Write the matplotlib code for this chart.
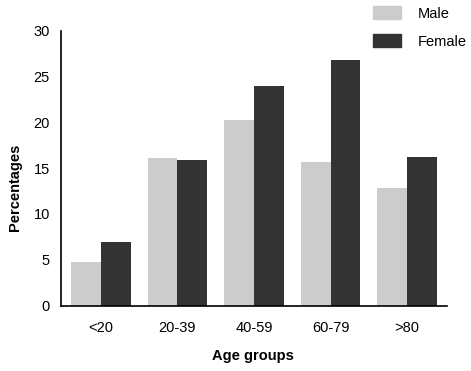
import matplotlib
matplotlib.use('Agg')
import matplotlib.pyplot as plt
import numpy as np
from matplotlib.patches import Patch

plt.rcParams['font.family'] = 'Liberation Sans'

# Data
groups = ['<20', '20-39', '40-59', '60-79', '>80']
male = [4.75, 16.1, 20.2, 15.65, 12.8]
female = [6.95, 15.85, 23.95, 26.8, 16.2]

male_color = '#cccccc'
female_color = '#333333'

fig = plt.figure(figsize=(4.71, 3.71), dpi=100)
ax = fig.add_axes([61/471, 1 - 305.5/371, 386/471, 275/371])

x = np.arange(len(groups))
w = 0.39
ax.bar(x - w/2, male, w, color=male_color)
ax.bar(x + w/2, female, w, color=female_color)

ax.set_xlim(-0.52, 4.52)
ax.set_ylim(0, 30)
ax.set_yticks([0, 5, 10, 15, 20, 25, 30])
ax.set_xticks(x)
ax.set_xticklabels(groups)
ax.tick_params(axis='both', length=0, labelsize=10.5)
ax.tick_params(axis='y', pad=8)
ax.tick_params(axis='x', pad=11)

ax.spines['top'].set_visible(False)
ax.spines['right'].set_visible(False)
ax.spines['left'].set_linewidth(1.2)
ax.spines['bottom'].set_linewidth(1.2)

# axis titles
fig.text(253/471, 1 - 356/371, 'Age groups', fontsize=10.5, fontweight='bold',
         ha='center', va='center')
fig.text(15/471, 1 - 187/371, 'Percentages', fontsize=10.5, fontweight='bold',
         ha='center', va='center', rotation=90)

handles = [Patch(color=male_color, label='Male'), Patch(color=female_color, label='Female')]
fig.legend(handles=handles, loc='upper left', bbox_to_anchor=(360/471, 1.019),
           frameon=False, fontsize=10.5, handlelength=1.92, handleheight=1.0,
           handletextpad=1.15, labelspacing=0.92)

plt.savefig('out.png', dpi=100)
